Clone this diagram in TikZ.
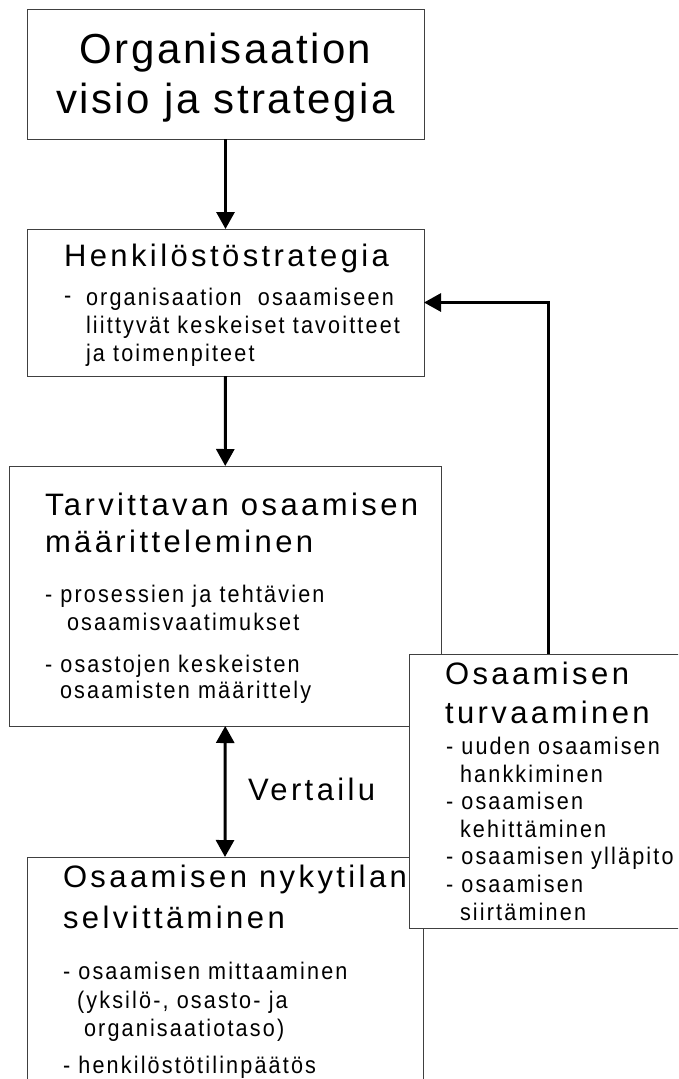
\documentclass[tikz,border=0pt]{standalone}
\usepackage{fontspec}
\setmainfont{Liberation Sans}
\newfontfamily\bigfont[LetterSpace=6]{Liberation Sans}
\newfontfamily\titlefont[LetterSpace=11]{Liberation Sans}
\newfontfamily\itemfont[LetterSpace=9,FakeStretch=0.9]{Liberation Sans}
\usetikzlibrary{arrows.meta}
\begin{document}
\begin{tikzpicture}[x=1pt,y=-1pt,
  box/.style={draw=black!75, line width=1pt, fill=white, inner sep=0pt, outer sep=0pt},
  bigtxt/.style={inner sep=0pt, outer sep=0pt, anchor=base, font=\bigfont\fontsize{42}{42}\selectfont},
  ttl/.style={inner sep=0pt, outer sep=0pt, anchor=base west, font=\titlefont\fontsize{31}{31}\selectfont},
  itm/.style={inner sep=0pt, outer sep=0pt, anchor=base west, font=\itemfont\fontsize{24}{24}\selectfont},
  arr/.style={line width=3pt, -{Triangle[width=18pt,length=17pt]}},
  darr/.style={line width=3pt, {Triangle[width=18pt,length=17pt]}-{Triangle[width=18pt,length=17pt]}}
]
\clip (0,0) rectangle (678,1079);
\fill[white] (0,0) rectangle (678,1079);

% boxes
\node[box, minimum width=397pt, minimum height=130pt] (B1) at (225.5,74) {};
\node[box, minimum width=397pt, minimum height=147pt] (B2) at (225.5,302.5) {};
\node[box, minimum width=431.5pt, minimum height=260pt] (B3) at (225.25,596) {};
\node[box, minimum width=396pt, minimum height=263pt] (B5) at (225,988.5) {};
\node[box, minimum width=291pt, minimum height=274pt] (B4) at (554.5,791) {};

% connectors
\coordinate (fb) at (548,0);
\draw[arr] (B1.south) -- (B2.north);
\draw[arr] (B2.south) -- (B3.north);
\draw[darr] (B3.south) -- (B5.north);
\draw[arr] (B4.north -| fb) |- (B2.east);
\node[ttl] (verta) at (248,800) {Vertailu};

% box 1 text
\node[bigtxt] (t1a) at (225.5,63) {Organisaation};
\node[bigtxt] (t1b) at (225.5,113) {visio ja strategia};

% box 2 text
\node[ttl] (t2a) at (64,266) {Henkilöstöstrategia};
\node[itm] (t2d) at (64,303) {-};
\node[itm] (t2b) at (86,305) {organisaation\ \ osaamiseen};
\node[itm] (t2c) at (86,333) {liittyvät keskeiset tavoitteet};
\node[itm] (t2e) at (86,361) {ja toimenpiteet};

% box 3 text
\node[ttl] (t3a) at (45,515) {Tarvittavan osaamisen};
\node[ttl] (t3b) at (45,552) {määritteleminen};
\node[itm] (t3c) at (45,602) {- prosessien ja tehtävien};
\node[itm] (t3d) at (67,630) {osaamisvaatimukset};
\node[itm] (t3e) at (45,672) {- osastojen keskeisten};
\node[itm] (t3f) at (60,698) {osaamisten määrittely};

% box 4 text
\node[ttl] (t4a) at (445,684) {Osaamisen};
\node[ttl] (t4b) at (445,723) {turvaaminen};
\node[itm] (t4c) at (446,754) {- uuden osaamisen};
\node[itm] (t4d) at (460,782) {hankkiminen};
\node[itm] (t4e) at (446,809) {- osaamisen};
\node[itm] (t4f) at (460,837) {kehittäminen};
\node[itm] (t4g) at (446,864) {- osaamisen ylläpito};
\node[itm] (t4h) at (446,892) {- osaamisen};
\node[itm] (t4i) at (460,920) {siirtäminen};

% box 5 text
\node[ttl] (t5a) at (63,887) {Osaamisen nykytilan};
\node[ttl] (t5b) at (63,928) {selvittäminen};
\node[itm] (t5c) at (63,979) {- osaamisen mittaaminen};
\node[itm] (t5d) at (77,1008) {(yksilö-, osasto- ja};
\node[itm] (t5e) at (84,1036.5) {organisaatiotaso)};
\node[itm] (t5f) at (63,1073) {- henkilöstötilinpäätös};
\end{tikzpicture}
\end{document}
